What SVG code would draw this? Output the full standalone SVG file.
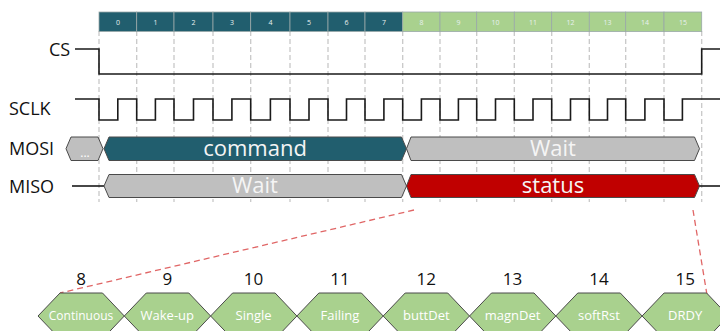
<svg xmlns="http://www.w3.org/2000/svg" width="720" height="331" viewBox="0 0 720 331">
<style>
.lbl{font-family:"Open Sans","Liberation Sans",sans-serif;font-size:18px;fill:#111}
.sig{fill:none;stroke:#1a1a1a;stroke-width:1.6}
.grid{stroke:#c8c8c8;stroke-width:1.3;stroke-dasharray:5 3;fill:none}
.cell{stroke:#9aa8a8;stroke-width:0.8}
.teal{fill:#215e6e}
.green{fill:#a9d18e}
.gray{fill:#bfbfbf}
.red{fill:#c00000}
.hex{stroke:#4a4a4a;stroke-width:1}
.cn{font-family:"Open Sans","Liberation Sans",sans-serif;font-size:7px;fill:#e8f0ee;text-anchor:middle}
.big{font-family:"Open Sans","Liberation Sans",sans-serif;font-size:22px;fill:#f5f5f5;text-anchor:middle}
.num{font-family:"Open Sans","Liberation Sans",sans-serif;font-size:17px;fill:#111;text-anchor:middle}
.hl{font-family:"Open Sans","Liberation Sans",sans-serif;font-size:13px;fill:#ffffff;text-anchor:middle}
.rd{stroke:#e06666;stroke-width:1.3;stroke-dasharray:6 4;fill:none}
</style>

<g id="grid">
<path class="grid" d="M99,31V202 M136.7,31V202 M174,31V202 M213,31V202 M250.7,31V202 M290,31V202 M328,31V202 M365,31V202 M402.7,31V202 M440,31V202 M476.7,31V202 M514.3,31V202 M551.7,31V202 M589.3,31V202 M625.7,31V202 M664,31V202 M701.7,31V202"/>
</g>

<g id="bitbar">
<rect class="cell teal" x="99" y="12" width="37.7" height="19.5"/>
<rect class="cell teal" x="136.7" y="12" width="37.3" height="19.5"/>
<rect class="cell teal" x="174" y="12" width="39" height="19.5"/>
<rect class="cell teal" x="213" y="12" width="37.7" height="19.5"/>
<rect class="cell teal" x="250.7" y="12" width="39.3" height="19.5"/>
<rect class="cell teal" x="290" y="12" width="38" height="19.5"/>
<rect class="cell teal" x="328" y="12" width="37" height="19.5"/>
<rect class="cell teal" x="365" y="12" width="37.7" height="19.5"/>
<rect class="cell green" x="402.7" y="12" width="37.3" height="19.5"/>
<rect class="cell green" x="440" y="12" width="36.7" height="19.5"/>
<rect class="cell green" x="476.7" y="12" width="37.6" height="19.5"/>
<rect class="cell green" x="514.3" y="12" width="37.4" height="19.5"/>
<rect class="cell green" x="551.7" y="12" width="37.6" height="19.5"/>
<rect class="cell green" x="589.3" y="12" width="36.4" height="19.5"/>
<rect class="cell green" x="625.7" y="12" width="38.3" height="19.5"/>
<rect class="cell green" x="664" y="12" width="37.7" height="19.5"/>
<text class="cn" x="118" y="24.5">0</text>
<text class="cn" x="155.4" y="24.5">1</text>
<text class="cn" x="193.5" y="24.5">2</text>
<text class="cn" x="231.9" y="24.5">3</text>
<text class="cn" x="270.4" y="24.5">4</text>
<text class="cn" x="309" y="24.5">5</text>
<text class="cn" x="346.5" y="24.5">6</text>
<text class="cn" x="383.9" y="24.5">7</text>
<text class="cn" x="421.4" y="24.5">8</text>
<text class="cn" x="458.4" y="24.5">9</text>
<text class="cn" x="495.5" y="24.5">10</text>
<text class="cn" x="533" y="24.5">11</text>
<text class="cn" x="570.5" y="24.5">12</text>
<text class="cn" x="607.5" y="24.5">13</text>
<text class="cn" x="644.9" y="24.5">14</text>
<text class="cn" x="682.9" y="24.5">15</text>
</g>

<g id="labels">
<text class="lbl" x="49" y="56">CS</text>
<text class="lbl" x="9" y="115">SCLK</text>
<text class="lbl" x="9" y="155">MOSI</text>
<text class="lbl" x="9" y="193">MISO</text>
</g>

<g id="cs">
<path class="sig" d="M75,49H99V74H701.7V49H720"/>
</g>

<g id="sclk">
<path class="sig" d="M75,99H99V120H117.8V99H136.7V120H155.4V99H174V120H193.5V99H213V120H231.9V99H250.7V120H270.4V99H290V120H309V99H328V120H346.5V99H365V120H383.9V99H402.7V120H421.4V99H440V120H458.4V99H476.7V120H495.5V99H514.3V120H533V99H551.7V120H570.5V99H589.3V120H607.5V99H625.7V120H644.9V99H664V120H682.4V99H720"/>
</g>

<g id="mosi">
<polygon class="hex gray" points="66,148.7 71,137 98,137 103,148.7 98,160.5 71,160.5"/>
<text class="hl" x="85" y="157" style="font-size:12px">...</text>
<polygon class="hex teal" points="104,148.7 109,137 401.5,137 406.5,148.7 401.5,160.5 109,160.5"/>
<text class="big" x="255" y="156">command</text>
<polygon class="hex gray" points="406.5,148.7 411,137 694.5,137 699.5,148.7 694.5,160.5 411,160.5"/>
<text class="big" x="553" y="156">Wait</text>
</g>

<g id="miso">
<path class="sig" d="M72,186H104"/>
<polygon class="hex gray" points="104,186 109,174.5 401.5,174.5 406.5,186 401.5,197.5 109,197.5"/>
<text class="big" x="255" y="193">Wait</text>
<polygon class="hex red" points="406.5,186 411,174.5 694.5,174.5 699.5,186 694.5,197.5 411,197.5"/>
<text class="big" x="553" y="193">status</text>
<path class="sig" d="M699.5,186H720"/>
</g>

<g id="connectors">
<path class="rd" d="M414,210L60,293"/>
<path class="rd" d="M693,210L707,295"/>
</g>

<g id="bits">
<g id="b8"><polygon class="hex green" points="38,316 60,293 102.5,293 124.3,316 102.5,339 60,339"/><text class="num" x="81" y="285">8</text><text class="hl" x="81" y="320" style="font-size:12px">Continuous</text></g>
<g id="b9"><polygon class="hex green" points="124.3,316 146.3,293 188.8,293 210.6,316 188.8,339 146.3,339"/><text class="num" x="167.3" y="285">9</text><text class="hl" x="167.3" y="320">Wake-up</text></g>
<g id="b10"><polygon class="hex green" points="210.6,316 232.6,293 275.1,293 296.9,316 275.1,339 232.6,339"/><text class="num" x="253.6" y="285">10</text><text class="hl" x="253.6" y="320">Single</text></g>
<g id="b11"><polygon class="hex green" points="296.9,316 318.9,293 361.4,293 383.2,316 361.4,339 318.9,339"/><text class="num" x="340" y="285">11</text><text class="hl" x="340" y="320">Failing</text></g>
<g id="b12"><polygon class="hex green" points="383.2,316 405.2,293 447.7,293 469.5,316 447.7,339 405.2,339"/><text class="num" x="426.3" y="285">12</text><text class="hl" x="426.3" y="320">buttDet</text></g>
<g id="b13"><polygon class="hex green" points="469.5,316 491.5,293 534,293 555.8,316 534,339 491.5,339"/><text class="num" x="512.6" y="285">13</text><text class="hl" x="512.6" y="320">magnDet</text></g>
<g id="b14"><polygon class="hex green" points="555.8,316 577.8,293 620.3,293 642.1,316 620.3,339 577.8,339"/><text class="num" x="598.9" y="285">14</text><text class="hl" x="598.9" y="320">softRst</text></g>
<g id="b15"><polygon class="hex green" points="642.1,316 664.1,293 706.6,293 728.4,316 706.6,339 664.1,339"/><text class="num" x="685.2" y="285">15</text><text class="hl" x="685.2" y="320">DRDY</text></g>
</g>
</svg>
